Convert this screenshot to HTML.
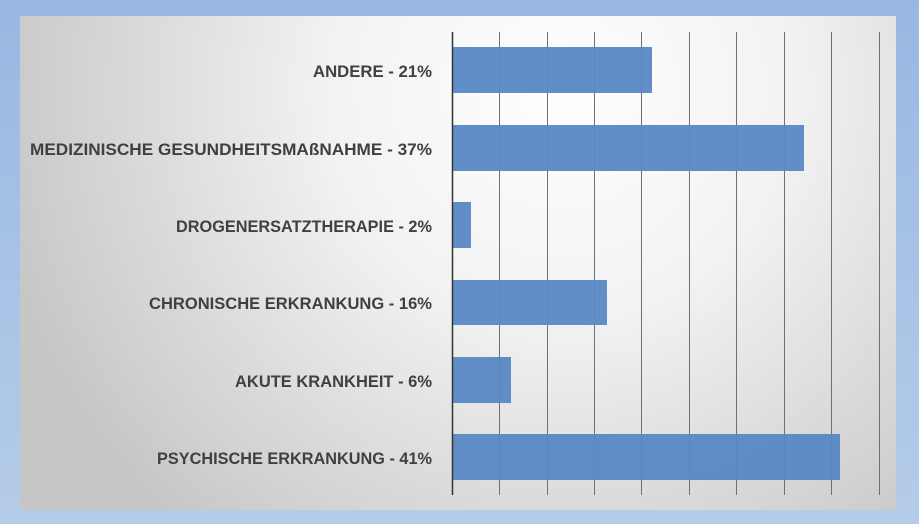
<!DOCTYPE html>
<html><head><style>
html,body{margin:0;padding:0;}
body{width:919px;height:524px;overflow:hidden;background:linear-gradient(#98b8e2,#b5cce9);}
</style></head><body>
<svg width="919" height="524" xmlns="http://www.w3.org/2000/svg" style="position:absolute;left:0;top:0">
<defs>
<radialGradient id="g" cx="560" cy="90" r="580" gradientUnits="userSpaceOnUse">
<stop offset="0" stop-color="#ffffff"/>
<stop offset="0.4" stop-color="#f2f2f2"/>
<stop offset="1" stop-color="#c6c6c6"/>
</radialGradient>
</defs>
<rect x="20" y="16" width="876" height="494" fill="url(#g)"/>
<g stroke="#707070" stroke-width="1">
<line x1="499.5" y1="32" x2="499.5" y2="495"/>
<line x1="547.5" y1="32" x2="547.5" y2="495"/>
<line x1="594.5" y1="32" x2="594.5" y2="495"/>
<line x1="641.5" y1="32" x2="641.5" y2="495"/>
<line x1="689.5" y1="32" x2="689.5" y2="495"/>
<line x1="736.5" y1="32" x2="736.5" y2="495"/>
<line x1="784.5" y1="32" x2="784.5" y2="495"/>
<line x1="831.5" y1="32" x2="831.5" y2="495"/>
<line x1="879.5" y1="32" x2="879.5" y2="495"/>
</g>
<g fill="#5a88c4" fill-opacity="0.95">
<rect x="452" y="47" width="200" height="46"/>
<rect x="452" y="125" width="352" height="46"/>
<rect x="452" y="202" width="19" height="46"/>
<rect x="452" y="280" width="155" height="45"/>
<rect x="452" y="357" width="59" height="46"/>
<rect x="452" y="434" width="388" height="46"/>
</g>
<line x1="452.5" y1="32" x2="452.5" y2="495" stroke="#333" stroke-width="1.5"/>
<g font-family="Liberation Sans, sans-serif" font-weight="bold" font-size="17" fill="#404040" text-anchor="end">
<text x="432" y="77" textLength="119" lengthAdjust="spacingAndGlyphs">ANDERE - 21%</text>
<text x="432" y="155" textLength="402" lengthAdjust="spacingAndGlyphs">MEDIZINISCHE GESUNDHEITSMAßNAHME - 37%</text>
<text x="432" y="232" textLength="256" lengthAdjust="spacingAndGlyphs">DROGENERSATZTHERAPIE - 2%</text>
<text x="432" y="309" textLength="283" lengthAdjust="spacingAndGlyphs">CHRONISCHE ERKRANKUNG - 16%</text>
<text x="432" y="387" textLength="197" lengthAdjust="spacingAndGlyphs">AKUTE KRANKHEIT - 6%</text>
<text x="432" y="464" textLength="275" lengthAdjust="spacingAndGlyphs">PSYCHISCHE ERKRANKUNG - 41%</text>
</g>
</svg>
</body></html>
